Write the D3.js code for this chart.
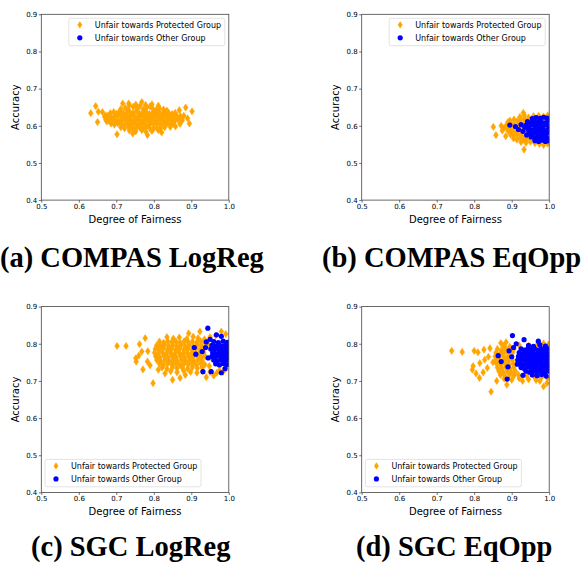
<!DOCTYPE html>
<meta charset="utf-8">
<script src="https://d3js.org/d3.v7.min.js"></script>
<style>
  body { margin: 0; background: #fff; }
  svg text { font-family: "DejaVu Sans", sans-serif; fill: #000; }
  svg text.caption { font-family: "Liberation Serif", "Times New Roman", serif; font-weight: bold; }
</style>
<div id="chart"></div>
<script>
// axis ticks shared by every panel
const xTicks = [0.5, 0.6, 0.7, 0.8, 0.9, 1.0];
const yTicks = [0.4, 0.5, 0.6, 0.7, 0.8, 0.9];
const seriesNames = ["Unfair towards Protected Group", "Unfair towards Other Group"];
const captions = ["(a) COMPAS LogReg", "(b) COMPAS EqOpp", "(c) SGC LogReg", "(d) SGC EqOpp"];

// (a) COMPAS LogReg  [fairness, accuracy]
const aOrange = [
  [0.632,0.634],[0.645,0.653],[0.650,0.610],[0.652,0.638],[0.663,0.637],[0.702,0.577],[0.717,0.660],[0.733,0.660],
  [0.744,0.579],[0.768,0.664],[0.783,0.575],[0.821,0.582],[0.844,0.597],[0.868,0.642],[0.885,0.649],[0.902,0.639],
  [0.895,0.606],[0.880,0.627],[0.870,0.605],[0.890,0.620],[0.675,0.612],[0.672,0.628],[0.858,0.598],[0.876,0.615],
  [0.712,0.645],[0.724,0.648],[0.731,0.643],[0.745,0.651],[0.756,0.646],[0.763,0.653],[0.772,0.644],[0.781,0.649],
  [0.790,0.652],[0.798,0.645],[0.806,0.642],[0.815,0.647],[0.826,0.644],[0.835,0.641],
  [0.684,0.634],[0.693,0.637],[0.701,0.633],[0.709,0.638],[0.718,0.635],[0.727,0.632],[0.736,0.637],[0.744,0.634],
  [0.753,0.639],[0.762,0.633],[0.771,0.636],[0.779,0.638],[0.788,0.632],[0.797,0.636],[0.805,0.634],[0.814,0.637],
  [0.823,0.633],[0.831,0.636],[0.840,0.634],[0.849,0.632],[0.857,0.635],
  [0.669,0.624],[0.678,0.627],[0.687,0.623],[0.696,0.626],[0.704,0.628],[0.713,0.624],[0.722,0.626],[0.731,0.622],
  [0.739,0.627],[0.748,0.625],[0.757,0.623],[0.766,0.627],[0.775,0.624],[0.783,0.626],[0.792,0.622],[0.801,0.627],
  [0.810,0.625],[0.818,0.623],[0.827,0.626],[0.836,0.624],[0.845,0.627],[0.854,0.623],[0.862,0.625],[0.871,0.626],
  [0.672,0.616],[0.681,0.613],[0.690,0.617],[0.699,0.614],[0.707,0.612],[0.716,0.616],[0.725,0.614],[0.734,0.617],
  [0.742,0.613],[0.751,0.615],[0.760,0.617],[0.769,0.612],[0.778,0.616],[0.786,0.614],[0.795,0.617],[0.804,0.613],
  [0.812,0.615],[0.821,0.617],[0.830,0.612],[0.839,0.616],[0.848,0.614],[0.856,0.613],[0.865,0.616],
  [0.686,0.606],[0.695,0.603],[0.704,0.607],[0.713,0.604],[0.721,0.602],[0.730,0.606],[0.739,0.604],[0.748,0.607],
  [0.756,0.603],[0.765,0.605],[0.774,0.607],[0.783,0.602],[0.791,0.606],[0.800,0.604],[0.809,0.607],[0.818,0.603],
  [0.826,0.605],[0.835,0.606],[0.844,0.603],[0.852,0.605],
  [0.712,0.596],[0.722,0.593],[0.733,0.597],[0.743,0.594],[0.752,0.592],[0.762,0.596],[0.771,0.593],[0.780,0.597],
  [0.789,0.594],[0.798,0.591],[0.808,0.595],[0.818,0.593],[0.829,0.596],
  [0.735,0.587],[0.752,0.585],[0.768,0.588],[0.779,0.584],[0.795,0.586],[0.812,0.588],
  [0.735,0.655],[0.752,0.657],[0.778,0.656],[0.795,0.658],[0.812,0.654]
];
const aBlue = [];

// (b) COMPAS EqOpp
const bOrange = [
  [0.851,0.597],[0.858,0.575],[0.875,0.587],[0.933,0.536],[0.931,0.635],[0.872,0.600],[0.884,0.572],[0.890,0.610],[0.880,0.595],
  [0.922,0.624],[0.934,0.628],[0.945,0.622],[0.958,0.626],[0.972,0.627],[0.985,0.625],[0.996,0.628],
  [0.895,0.614],[0.906,0.617],[0.915,0.613],[0.924,0.616],[0.933,0.618],[0.942,0.613],[0.951,0.616],[0.963,0.614],
  [0.888,0.604],[0.898,0.607],[0.907,0.603],[0.917,0.606],[0.926,0.604],[0.935,0.607],[0.944,0.603],
  [0.886,0.596],[0.895,0.593],[0.904,0.597],[0.913,0.594],[0.922,0.596],[0.931,0.593],
  [0.890,0.586],[0.899,0.583],[0.908,0.587],[0.917,0.584],[0.926,0.586],[0.935,0.583],[0.944,0.585],
  [0.897,0.576],[0.906,0.573],[0.915,0.577],[0.924,0.574],[0.933,0.576],[0.942,0.573],[0.952,0.575],
  [0.905,0.566],[0.914,0.563],[0.923,0.567],[0.932,0.564],[0.941,0.566],[0.950,0.563],[0.960,0.565],[0.970,0.562],[0.982,0.564],[0.994,0.563],
  [0.925,0.556],[0.938,0.554],[0.950,0.557],[0.962,0.553],[0.974,0.551],[0.985,0.548],[0.996,0.552]
];
const bBlue = [
  [0.895,0.602],[0.910,0.598],[0.918,0.590],[0.925,0.603],[0.930,0.585],[0.935,0.596],[0.940,0.575],
  [0.955,0.619],[0.965,0.622],[0.976,0.620],[0.985,0.623],[0.994,0.621],[1.000,0.618],
  [0.942,0.611],[0.951,0.608],[0.960,0.612],[0.969,0.609],[0.978,0.611],[0.987,0.608],[0.996,0.612],
  [0.938,0.601],[0.947,0.598],[0.956,0.602],[0.965,0.599],[0.974,0.601],[0.983,0.598],[0.992,0.602],[1.000,0.600],
  [0.944,0.590],[0.953,0.588],[0.962,0.591],[0.971,0.588],[0.980,0.590],[0.989,0.587],[0.998,0.591],
  [0.946,0.580],[0.955,0.578],[0.964,0.581],[0.973,0.578],[0.982,0.580],[0.991,0.577],[1.000,0.581],
  [0.952,0.570],[0.961,0.568],[0.970,0.571],[0.979,0.568],[0.988,0.570],[0.997,0.567],
  [0.962,0.560],[0.972,0.558],[0.981,0.561],[0.990,0.558],[0.998,0.560]
];

// (c) SGC LogReg
const cOrange = [
  [0.702,0.794],[0.726,0.794],[0.762,0.799],[0.777,0.815],[0.768,0.779],[0.752,0.761],[0.753,0.752],[0.771,0.731],
  [0.784,0.780],[0.783,0.752],[0.798,0.694],[0.812,0.730],[0.830,0.720],[0.850,0.703],[0.884,0.716],[0.893,0.828],
  [0.923,0.833],[0.980,0.833],[0.760,0.768],[0.790,0.742],[0.810,0.790],[0.870,0.708],[0.940,0.710],[0.960,0.714],
  [0.835,0.818],[0.852,0.814],[0.868,0.817],[0.888,0.813],[0.905,0.819],[0.918,0.815],[0.935,0.812],
  [0.815,0.806],[0.826,0.803],[0.837,0.807],[0.848,0.804],[0.859,0.806],[0.870,0.803],[0.881,0.807],[0.892,0.804],[0.903,0.806],[0.914,0.803],[0.925,0.807],[0.936,0.804],
  [0.808,0.796],[0.818,0.793],[0.829,0.797],[0.840,0.794],[0.851,0.796],[0.862,0.793],[0.873,0.797],[0.884,0.794],[0.895,0.796],[0.906,0.793],[0.917,0.797],[0.928,0.794],
  [0.804,0.786],[0.814,0.783],[0.825,0.787],[0.836,0.784],[0.847,0.786],[0.858,0.783],[0.869,0.787],[0.880,0.784],[0.891,0.786],[0.902,0.783],[0.913,0.787],[0.924,0.784],[0.935,0.786],
  [0.802,0.776],[0.812,0.773],[0.823,0.777],[0.834,0.774],[0.845,0.776],[0.856,0.773],[0.867,0.777],[0.878,0.774],[0.889,0.776],[0.900,0.773],[0.911,0.777],[0.922,0.774],[0.933,0.776],
  [0.805,0.766],[0.816,0.763],[0.827,0.767],[0.838,0.764],[0.849,0.766],[0.860,0.763],[0.871,0.767],[0.882,0.764],[0.893,0.766],[0.904,0.763],[0.915,0.767],[0.926,0.764],[0.937,0.766],
  [0.808,0.756],[0.819,0.753],[0.830,0.757],[0.841,0.754],[0.852,0.756],[0.863,0.753],[0.874,0.757],[0.885,0.754],[0.896,0.756],[0.907,0.753],[0.918,0.757],[0.929,0.754],
  [0.815,0.746],[0.826,0.743],[0.837,0.747],[0.848,0.744],[0.859,0.746],[0.870,0.743],[0.881,0.747],[0.892,0.744],[0.903,0.746],[0.914,0.743],[0.925,0.747],[0.936,0.744],
  [0.822,0.736],[0.835,0.733],[0.850,0.737],[0.862,0.734],[0.876,0.736],[0.890,0.733],[0.903,0.737],[0.916,0.734],[0.929,0.736],
  [0.845,0.726],[0.862,0.723],[0.880,0.727],[0.898,0.724],[0.915,0.722],[0.930,0.726],[0.950,0.724],[0.968,0.722],[0.985,0.725],
  [0.950,0.818],[0.965,0.822],[0.992,0.826],[0.945,0.800],[0.955,0.760],[0.948,0.740],[0.990,0.735],[0.975,0.728]
];
const cBlue = [
  [0.908,0.790],[0.912,0.772],[0.929,0.779],[0.931,0.725],[0.940,0.805],[0.944,0.842],[0.953,0.725],[0.950,0.812],
  [0.967,0.824],[0.980,0.820],[0.980,0.722],[0.990,0.733],[0.945,0.762],[0.938,0.790],
  [0.960,0.806],[0.972,0.803],[0.985,0.807],[0.996,0.804],
  [0.955,0.796],[0.964,0.793],[0.973,0.797],[0.982,0.794],[0.991,0.796],[1.000,0.793],
  [0.952,0.786],[0.961,0.783],[0.970,0.787],[0.979,0.784],[0.988,0.786],[0.997,0.783],
  [0.957,0.776],[0.966,0.773],[0.975,0.777],[0.984,0.774],[0.993,0.776],[1.000,0.773],
  [0.955,0.766],[0.964,0.763],[0.973,0.767],[0.982,0.764],[0.991,0.766],[1.000,0.763],
  [0.960,0.756],[0.969,0.753],[0.978,0.757],[0.987,0.754],[0.996,0.756],
  [0.965,0.746],[0.975,0.743],[0.985,0.747],[0.995,0.744]
];

// (d) SGC EqOpp
const dOrange = [
  [0.740,0.781],[0.768,0.778],[0.800,0.781],[0.810,0.777],[0.826,0.784],[0.842,0.788],[0.797,0.740],[0.795,0.730],
  [0.815,0.748],[0.814,0.708],[0.824,0.723],[0.828,0.757],[0.845,0.671],[0.871,0.802],[0.885,0.804],[0.887,0.690],
  [0.929,0.700],[0.985,0.685],[0.994,0.694],[0.838,0.765],[0.850,0.750],[0.835,0.735],[0.805,0.720],[0.860,0.700],
  [0.878,0.795],[0.895,0.792],[0.920,0.796],[0.945,0.794],[0.968,0.797],[0.985,0.801],[0.998,0.798],
  [0.862,0.786],[0.873,0.783],[0.884,0.787],[0.895,0.784],[0.906,0.786],
  [0.858,0.776],[0.869,0.773],[0.880,0.777],[0.891,0.774],[0.902,0.776],
  [0.856,0.766],[0.867,0.763],[0.878,0.767],[0.889,0.764],[0.900,0.766],
  [0.858,0.756],[0.869,0.753],[0.880,0.757],[0.891,0.754],[0.902,0.756],
  [0.860,0.746],[0.871,0.743],[0.882,0.747],[0.893,0.744],[0.904,0.746],
  [0.862,0.736],[0.873,0.733],[0.884,0.737],[0.895,0.734],[0.906,0.736],
  [0.866,0.726],[0.877,0.723],[0.888,0.727],[0.899,0.724],[0.910,0.726],
  [0.870,0.716],[0.882,0.713],[0.894,0.717],[0.906,0.714],[0.918,0.716],[0.940,0.713],[0.960,0.712],[0.980,0.710],[0.995,0.708],
  [0.880,0.706],[0.900,0.703],[0.920,0.707],[0.945,0.704],[0.965,0.702],[0.975,0.700]
];
const dBlue = [
  [0.902,0.822],[0.864,0.768],[0.872,0.752],[0.888,0.705],[0.893,0.781],[0.890,0.738],[0.912,0.800],[0.933,0.811],
  [0.900,0.765],[0.930,0.715],[0.971,0.807],[0.905,0.790],[0.915,0.745],
  [0.945,0.796],[0.958,0.793],[0.975,0.797],[0.990,0.794],
  [0.925,0.786],[0.934,0.783],[0.943,0.787],[0.952,0.784],[0.961,0.786],[0.970,0.783],[0.979,0.787],[0.988,0.784],[0.997,0.786],
  [0.920,0.776],[0.929,0.773],[0.938,0.777],[0.947,0.774],[0.956,0.776],[0.965,0.773],[0.974,0.777],[0.983,0.774],[0.992,0.776],[1.000,0.773],
  [0.918,0.766],[0.927,0.763],[0.936,0.767],[0.945,0.764],[0.954,0.766],[0.963,0.763],[0.972,0.767],[0.981,0.764],[0.990,0.766],[0.999,0.763],
  [0.916,0.756],[0.925,0.753],[0.934,0.757],[0.943,0.754],[0.952,0.756],[0.961,0.753],[0.970,0.757],[0.979,0.754],[0.988,0.756],[0.997,0.753],
  [0.920,0.746],[0.929,0.743],[0.938,0.747],[0.947,0.744],[0.956,0.746],[0.965,0.743],[0.974,0.747],[0.983,0.744],[0.992,0.746],[1.000,0.743],
  [0.925,0.736],[0.934,0.733],[0.943,0.737],[0.952,0.734],[0.961,0.736],[0.970,0.733],[0.979,0.737],[0.988,0.734],[0.997,0.736],
  [0.938,0.726],[0.948,0.723],[0.958,0.727],[0.968,0.724],[0.978,0.726],[0.988,0.723],[0.998,0.726],
  [0.955,0.716],[0.968,0.714],[0.980,0.717],[0.992,0.713]
];

const panels = [
  {orange: aOrange, blue: aBlue, left: 41.3, top: 14.3, legend: "upper", caption: captions[0], capX: 0, capY: 267},
  {orange: bOrange, blue: bBlue, left: 361.7, top: 14.3, legend: "upper", caption: captions[1], capX: 322, capY: 267},
  {orange: cOrange, blue: cBlue, left: 41.3, top: 306.6, legend: "lower", caption: captions[2], capX: 31, capY: 556},
  {orange: dOrange, blue: dBlue, left: 361.7, top: 306.6, legend: "lower", caption: captions[3], capX: 356, capY: 556}
];

const W = 582, H = 564;
const pw = 187.5, ph = 185.8;
const orange = "#ffa500", blue = "#0000ff";
const diamond = "M0,-3.6L2.4,0L0,3.6L-2.4,0Z";

const svg = d3.select("#chart").append("svg")
  .attr("width", W).attr("height", H);

panels.forEach(function(p, i) {
  const x = d3.scaleLinear().domain([0.5, 1.0]).range([0, pw]);
  const y = d3.scaleLinear().domain([0.4, 0.9]).range([ph, 0]);

  const g = svg.append("g").attr("transform", `translate(${p.left},${p.top})`);

  g.append("clipPath").attr("id", "clip" + i)
    .append("rect").attr("width", pw).attr("height", ph);

  const pts = g.append("g").attr("clip-path", `url(#clip${i})`);
  pts.selectAll("path.o").data(p.orange).join("path")
    .attr("class", "o")
    .attr("d", diamond)
    .attr("transform", d => `translate(${x(d[0])},${y(d[1])})`)
    .attr("fill", orange).attr("stroke", orange).attr("stroke-width", 0.5);
  pts.selectAll("circle.b").data(p.blue).join("circle")
    .attr("class", "b")
    .attr("cx", d => x(d[0])).attr("cy", d => y(d[1]))
    .attr("r", 2.6)
    .attr("fill", blue);

  // axes
  const xa = g.append("g").attr("transform", `translate(0,${ph})`)
    .call(d3.axisBottom(x).tickValues(xTicks).tickFormat(d3.format(".1f")).tickSize(2.5).tickPadding(1.5));
  const ya = g.append("g")
    .call(d3.axisLeft(y).tickValues(yTicks).tickFormat(d3.format(".1f")).tickSize(2.5).tickPadding(1.5));
  [xa, ya].forEach(a => {
    a.select(".domain").remove();
    a.selectAll("line").attr("stroke", "#333").attr("stroke-width", 0.7);
    a.selectAll("text").style("font-size", "7px").attr("fill", "#000");
  });

  g.append("rect").attr("width", pw).attr("height", ph)
    .attr("fill", "none").attr("stroke", "#444").attr("stroke-width", 0.8);

  g.append("text")
    .attr("x", pw / 2).attr("y", ph + 22.5)
    .attr("text-anchor", "middle")
    .style("font-size", "10px")
    .text("Degree of Fairness");
  g.append("text")
    .attr("transform", `translate(-22.5,${ph / 2}) rotate(-90)`)
    .attr("text-anchor", "middle")
    .style("font-size", "10px")
    .text("Accuracy");

  // legend
  const lw = 156, lh = 27.4;
  const lx = p.legend === "upper" ? pw - 4 - lw : 3.7;
  const ly = p.legend === "upper" ? 4 : ph - 5.6 - lh;
  const lg = g.append("g").attr("transform", `translate(${lx},${ly})`);
  lg.append("rect").attr("width", lw).attr("height", lh).attr("rx", 2)
    .attr("fill", "#fff").attr("fill-opacity", 0.8)
    .attr("stroke", "#d0d0d0").attr("stroke-width", 0.6);
  seriesNames.forEach(function(name, k) {
    const cy = 6.5 + k * 13;
    if (k === 0) {
      lg.append("path").attr("d", diamond)
        .attr("transform", `translate(11,${cy})`).attr("fill", orange);
    } else {
      lg.append("circle").attr("cx", 11).attr("cy", cy).attr("r", 2.6).attr("fill", blue);
    }
    lg.append("text").attr("x", 26).attr("y", cy + 2.8)
      .style("font-size", "8px").text(name);
  });

  svg.append("text").attr("class", "caption")
    .attr("x", p.capX).attr("y", p.capY)
    .style("font-size", "28.5px")
    .text(p.caption);
});
</script>
